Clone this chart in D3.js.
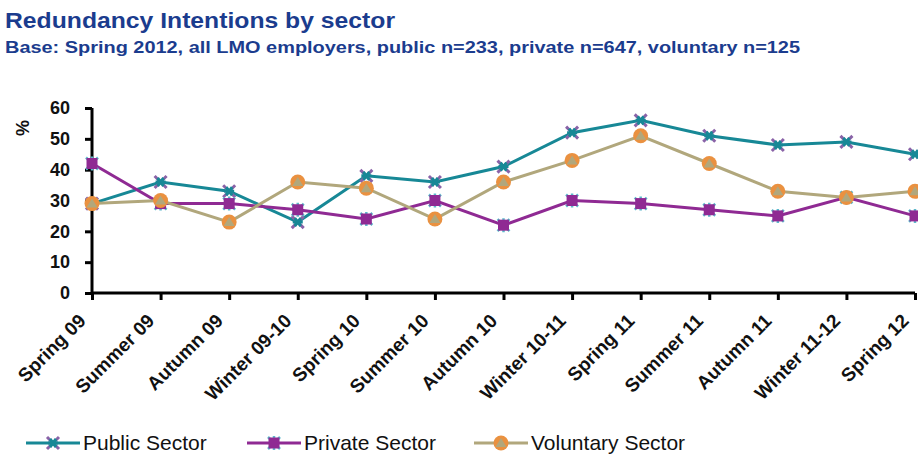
<!DOCTYPE html>
<html>
<head>
<meta charset="utf-8">
<script src="https://cdn.jsdelivr.net/npm/d3@7"></script>
<style>
	body { margin: 0; background: #fff; }
	text { font-family: Arial, "Liberation Sans", sans-serif; }
</style>
</head>
<body>
<svg width="918" height="455"></svg>
<script>
const categories = ['Spring 09', 'Summer 09', 'Autumn 09', 'Winter 09-10', 'Spring 10', 'Summer 10',
	'Autumn 10', 'Winter 10-11', 'Spring 11', 'Summer 11', 'Autumn 11', 'Winter 11-12', 'Spring 12'];
const publicSector = [29, 36, 33, 23, 38, 36, 41, 52, 56, 51, 48, 49, 45];
const privateSector = [42, 29, 29, 27, 24, 30, 22, 30, 29, 27, 25, 31, 25];
const voluntarySector = [29, 30, 23, 36, 34, 24, 36, 43, 51, 42, 33, 31, 33];
const yTicks = [0, 10, 20, 30, 40, 50, 60];

const series = [
	{ name: 'Public Sector', values: publicSector, line: '#178896', kind: 'public' },
	{ name: 'Private Sector', values: privateSector, line: '#8f2a93', kind: 'private' },
	{ name: 'Voluntary Sector', values: voluntarySector, line: '#b1a77c', kind: 'voluntary' }
];

const svg = d3.select('svg');
const navy = '#1b3c8e';

svg.append('text')
	.attr('x', 5).attr('y', 28)
	.attr('fill', navy).attr('font-size', 22).attr('font-weight', 'bold')
	.attr('textLength', 390).attr('lengthAdjust', 'spacingAndGlyphs')
	.text('Redundancy Intentions by sector');
svg.append('text')
	.attr('x', 5).attr('y', 53)
	.attr('fill', navy).attr('font-size', 16.5).attr('font-weight', 'bold')
	.attr('textLength', 795).attr('lengthAdjust', 'spacingAndGlyphs')
	.text('Base: Spring 2012, all LMO employers, public n=233, private n=647, voluntary n=125');

const x = d3.scalePoint().domain(categories).range([92, 915]);
const y = d3.scaleLinear().domain([0, 60]).range([293, 108]);

// axes
const yAxis = svg.append('g')
	.attr('transform', 'translate(92,0)')
	.call(d3.axisLeft(y).tickValues(yTicks).tickSize(7).tickPadding(15));
const xAxis = svg.append('g')
	.attr('transform', 'translate(0,293)')
	.call(d3.axisBottom(x).tickSize(7).tickFormat(''));

[yAxis, xAxis].forEach(g => {
	g.select('.domain').attr('stroke', '#000').attr('stroke-width', 3);
	g.selectAll('.tick line').attr('stroke', '#000').attr('stroke-width', 3);
});
yAxis.select('.domain').attr('d', 'M0,108V293');
xAxis.select('.domain').attr('d', 'M92,0H915');
yAxis.selectAll('.tick text')
	.attr('font-size', 18).attr('font-weight', 'bold').attr('fill', '#111')
	.attr('font-family', 'Arial, "Liberation Sans", sans-serif');

svg.append('text')
	.attr('transform', 'translate(29,128) rotate(-90)')
	.attr('text-anchor', 'middle')
	.attr('font-size', 18).attr('font-weight', 'bold').attr('fill', '#111')
	.text('%');

svg.append('g')
	.selectAll('text')
	.data(categories)
	.enter().append('text')
		.attr('transform', d => `translate(${x(d) - 5},${322}) rotate(-45)`)
		.attr('text-anchor', 'end')
		.attr('font-size', 19).attr('font-weight', 'bold').attr('fill', '#111')
		.text(d => d);

const line = d3.line()
	.x((d, i) => x(categories[i]))
	.y(d => y(d));

function drawMarker(g, kind) {
	if (kind === 'public') {
		g.append('path').attr('d', 'M-6,-6L6,6M-6,6L6,-6').attr('stroke', '#8a63a8').attr('stroke-width', 3);
		g.append('path').attr('d', 'M-5,0H5M-3,-4L3,4M-3,4L3,-4').attr('stroke', '#178896').attr('stroke-width', 3);
	} else if (kind === 'private') {
		g.append('path').attr('d', 'M-6,-6L6,6M-6,6L6,-6M0,-7V7').attr('stroke', '#5cb9cc').attr('stroke-width', 2.5);
		g.append('rect').attr('x', -5.5).attr('y', -5.5).attr('width', 11).attr('height', 11).attr('fill', '#8f2a93');
	} else {
		g.append('circle').attr('r', 7.5).attr('fill', '#ea9140');
		g.append('path').attr('d', 'M0,-5L5.5,4H-5.5Z').attr('fill', '#b1a77c');
	}
}

series.forEach(s => {
	svg.append('path')
		.datum(s.values)
		.attr('fill', 'none')
		.attr('stroke', s.line)
		.attr('stroke-width', 3)
		.attr('d', line);
});
series.forEach(s => {
	svg.append('g')
		.selectAll('g')
		.data(s.values)
		.enter().append('g')
			.attr('transform', (d, i) => `translate(${x(categories[i])},${y(d)})`)
			.each(function() { drawMarker(d3.select(this), s.kind); });
});

// legend
const legendX = [26, 247, 474];
const legend = svg.append('g')
	.selectAll('g')
	.data(series)
	.enter().append('g')
		.attr('transform', (d, i) => `translate(${legendX[i]},443)`);
legend.append('line')
	.attr('x1', 0).attr('x2', 54)
	.attr('stroke', d => d.line).attr('stroke-width', 3);
legend.append('g')
	.attr('transform', 'translate(27,0)')
	.each(function(d) { drawMarker(d3.select(this), d.kind); });
legend.append('text')
	.attr('x', 57).attr('y', 7)
	.attr('font-size', 21).attr('fill', '#111')
	.text(d => d.name);
</script>
</body>
</html>
